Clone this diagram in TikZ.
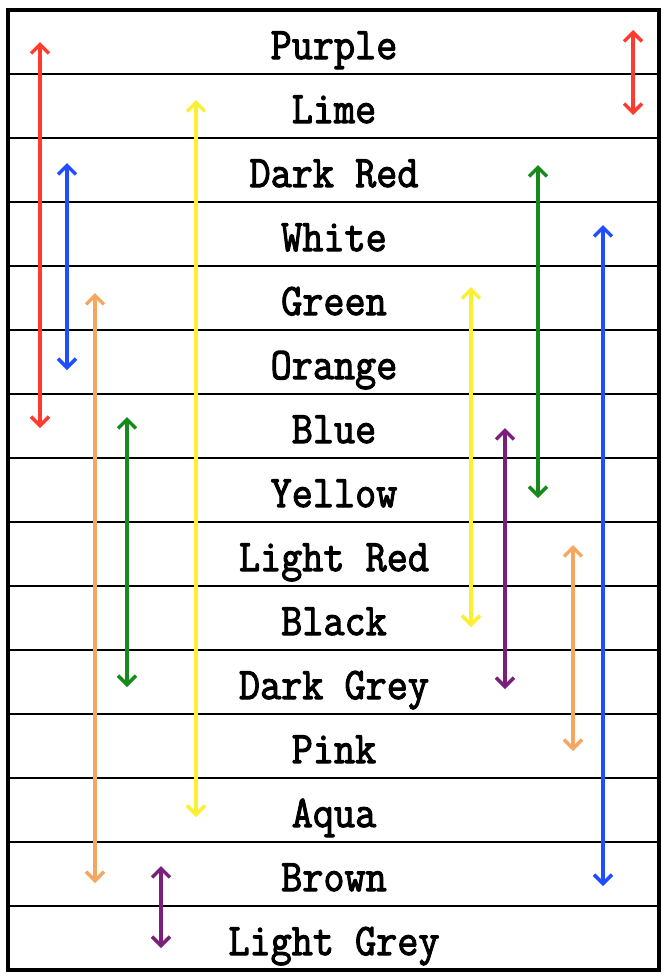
\documentclass[tikz,border=0pt]{standalone}
\usepackage{fontspec}
\setmonofont{Latin Modern Mono}[FakeBold=2.5]
\usetikzlibrary{arrows.meta}
\definecolor{arrred}{HTML}{FF3A2E}
\definecolor{arryellow}{HTML}{FAF030}
\definecolor{arrblue}{HTML}{1F4DFF}
\definecolor{arrgreen}{HTML}{168B1C}
\definecolor{arrorange}{HTML}{F5A660}
\definecolor{arrpurple}{HTML}{7A1F7C}
\tikzset{
  frame/.style   = {draw, line width=4pt},
  rule/.style    = {line width=2.4pt},
  rowtext/.style = {anchor=base, inner sep=0pt, yscale=1.1, transform shape,
                    font=\fontsize{41}{41}\selectfont\ttfamily\bfseries},
  link/.style    = {{Straight Barb[length=9pt,width=18pt,line width=3.5pt]}-{Straight Barb[length=9pt,width=18pt,line width=3.5pt]},
                    line width=4pt}
}

\begin{document}
\begin{tikzpicture}[x=1pt,y=-1pt]
  \useasboundingbox (0,0) rectangle (667,978);
  \fill[white] (0,0) rectangle (667,978);
  % colour names, one per row
  \foreach \lbl [count=\i from 0] in {Purple,Lime,Dark Red,White,Green,Orange,Blue,
      Yellow,Light Red,Black,Dark Grey,Pink,Aqua,Brown,Light Grey}
    \node[rowtext] (row\i) at (334,{59+64*\i}) {\lbl};
  % row separators
  \foreach \i in {1,...,14}
    \draw[rule] (8,{10+64*\i}) -- (659,{10+64*\i});
  \draw[frame] (8,10) rectangle (659,970);
  % arrows: name/colour/x/top/bottom
  \foreach \n/\col/\x/\a/\b in {redl/arrred/40/42/428, redr/arrred/633/30/115,
      yell/arryellow/196/100/817, bluel/arrblue/67/163/370,
      orangel/arrorange/95/293/883, greenl/arrgreen/127/417/687,
      purplel/arrpurple/161/866/948, greenr/arrgreen/538/165/498,
      bluer/arrblue/603/225/886, yelr/arryellow/471/287/627,
      purpler/arrpurple/505/428/689, oranger/arrorange/573/545/751}
  {
    \coordinate (\n-top) at (\x,\a);
    \coordinate (\n-bot) at (\x,\b);
    \draw[link, \col] (\n-top) -- (\n-bot);
  }
\end{tikzpicture}
\end{document}
